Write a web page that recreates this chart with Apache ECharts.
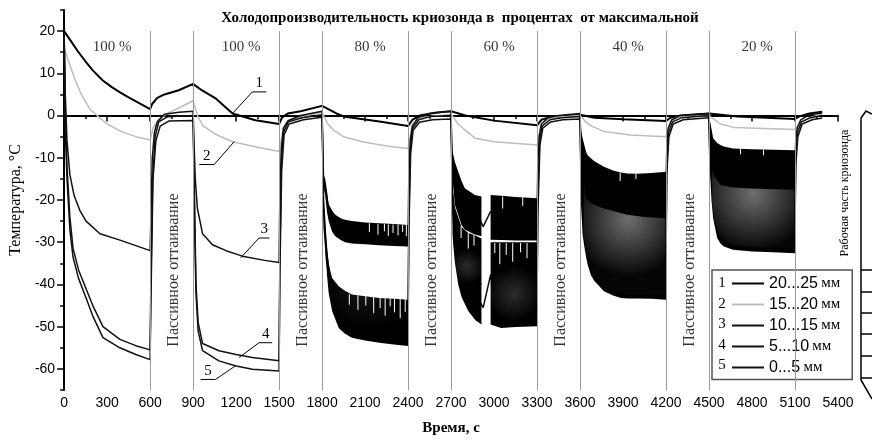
<!DOCTYPE html>
<html>
<head>
<meta charset="utf-8">
<script src="https://cdn.jsdelivr.net/npm/echarts/dist/echarts.min.js"></script>
<style>
  html, body { margin: 0; padding: 0; background: #fff; }
  #main { width: 872px; height: 441px; }
</style>
</head>
<body>
<div id="main"></div>
<script>
// time, s -> temperature, C
const s1 = [[0,20],[20,19],[50,17.5],[100,15],[150,12.8],[200,10.7],[270,8.3],[330,6.8],[390,5.5],[450,4.3],[520,3],[600,1.5],
  [615,2.8],[650,4.2],[700,5],[800,6],[900,7.5],
  [960,6],[1060,4],[1175,0.5],[1335,-1.1],[1500,-2],
  [1520,-0.5],[1560,0.5],[1650,1],[1800,2.3],
  [1900,0.5],[1960,-0.3],[2200,-1.4],[2400,-2.5],
  [2430,-1],[2480,0],[2600,0.7],[2700,1],
  [2800,0],[3000,-1.2],[3300,-2.3],
  [3330,-1],[3400,-0.3],[3600,0.2],
  [3700,-0.5],[3900,-0.9],[4200,-1.3],
  [4230,-0.5],[4300,0],[4500,0.5],
  [4700,-0.2],[4900,-0.5],[5100,-0.8],
  [5130,-0.2],[5200,0.5],[5290,0.9]]
const s2 = [[0,16],[30,13],[70,9],[120,5],[180,1.5],[230,0],[300,-2],[400,-3.8],[500,-5],[600,-5.8],
  [620,-3],[660,-1],[720,0.5],[800,1.8],[900,3.5],
  [930,0],[966,-2.3],[1060,-4.5],[1175,-6.2],[1350,-7.5],[1500,-8.5],
  [1530,-3],[1570,-1],[1700,0],[1800,0.8],
  [1840,-2],[1880,-3.5],[1950,-5],[2080,-6.2],[2250,-7.2],[2400,-7.8],
  [2430,-2],[2480,-0.5],[2700,0.3],
  [2750,-2],[2800,-3.5],[2870,-5.4],[3000,-6.2],[3300,-7],
  [3330,-2],[3380,-0.5],[3600,0],
  [3640,-1.5],[3680,-2.5],[3770,-3.8],[3950,-4.6],[4200,-5],
  [4230,-1.5],[4280,-0.3],[4500,0],
  [4540,-1],[4580,-2],[4670,-2.8],[5100,-3.3],
  [5140,-1.5],[5200,-0.5],[5290,0.3]]
const s3 = [[0,19],[8,5],[20,-6],[40,-14],[70,-19],[110,-22.5],[153,-25],[250,-28],[390,-29.5],[500,-30.8],[600,-32],
  [605,-25],[615,-10],[630,-4],[650,-1.5],[700,0.3],[800,0.8],[900,1],
  [905,-5],[915,-15],[930,-22],[966,-28],[1035,-30.6],[1130,-32],[1244,-33.3],[1400,-34.3],[1500,-34.8],
  [1505,-20],[1515,-8],[1530,-3],[1560,-1.3],[1650,0],[1800,1],
  [1810,-15],[1850,-23],[1950,-27],[2100,-28],[2400,-28.5],
  [2405,-15],[2415,-6],[2430,-2.5],[2470,-0.5],[2550,0.5],[2700,1],
  [2705,-8],[2730,-16],[2800,-22.5],[2900,-24.5],[2924,-26.3],[2976,-22.7],[3000,-24],[3300,-24.5],
  [3305,-12],[3315,-5],[3330,-2],[3380,-0.5],[3450,0],[3600,0.5],
  [3605,-5],[3620,-12],[3700,-16],[4200,-17],
  [4205,-8],[4215,-3],[4240,-1],[4300,0],[4500,0.5],
  [4505,-4],[4520,-8],[4600,-11],[5100,-12],
  [5105,-6],[5115,-3],[5140,-1],[5200,0.2],[5290,0.6]]
const s4 = [[0,19],[8,0],[20,-12],[40,-24],[62,-31.4],[100,-36.5],[153,-41],[200,-45],[271,-50],[389,-53],[500,-54.5],[600,-55.5],
  [605,-40],[618,-15],[635,-5],[660,-1.5],[720,-0.3],[900,0],
  [905,-10],[912,-25],[920,-40],[935,-49],[966,-54],[1080,-55.7],[1200,-56.6],[1314,-57.3],[1500,-58.1],
  [1505,-35],[1515,-12],[1530,-4],[1565,-1.5],[1660,-0.5],[1800,0.2],
  [1810,-20],[1830,-32],[1870,-42],[1950,-46],[2100,-48],[2400,-49],
  [2405,-25],[2415,-8],[2432,-3],[2475,-1],[2560,-0.2],[2700,0],
  [2708,-18],[2730,-28],[2800,-36],[2912,-40],[2944,'-'],[2976,-40],[3300,-40],
  [3305,-20],[3318,-6],[3335,-2.5],[3390,-1],[3470,-0.5],[3600,-0.2],
  [3605,-10],[3625,-22],[3700,-28],[4200,-30],
  [4205,-12],[4218,-4],[4245,-1.5],[4310,-0.5],[4500,0],
  [4505,-8],[4525,-16],[4600,-22],[5100,-24],
  [5105,-10],[5118,-4],[5145,-1.5],[5210,-0.5],[5290,0]]
const s5 = [[0,19],[8,-3],[20,-15],[40,-27],[62,-33.5],[100,-38.5],[153,-43.2],[200,-47.5],[271,-52.6],[389,-55],[500,-56.6],[600,-57.8],
  [605,-45],[620,-15],[640,-6],[670,-2.5],[730,-1.3],[900,-1.2],
  [905,-12],[912,-28],[920,-42],[935,-51],[966,-55.7],[1080,-58.1],[1200,-59.3],[1314,-60.1],[1500,-60.5],
  [1505,-38],[1518,-13],[1535,-4.5],[1570,-2],[1670,-1],[1800,-0.4],
  [1810,-22],[1830,-34],[1870,-44],[1950,-48.5],[2100,-50.5],[2400,-51.5],
  [2405,-28],[2418,-9],[2435,-3.5],[2480,-1.6],[2570,-1],[2700,-0.8],
  [2710,-22],[2730,-32],[2800,-40],[2900,-44],[2924,-45.5],[2976,-37.7],[3000,-43],[3300,-44],
  [3305,-24],[3320,-7],[3340,-3],[3395,-1.5],[3480,-1],[3600,-0.8],
  [3605,-12],[3625,-26],[3700,-33],[4200,-36],
  [4205,-14],[4220,-5],[4250,-2],[4320,-1],[4500,-0.5],
  [4505,-10],[4525,-18],[4600,-25],[5100,-27],
  [5105,-12],[5120,-5],[5150,-2],[5220,-1],[5290,-0.6]]

// noisy (oscillating) parts: [time, upper envelope, lower envelope]
const band80a = [[1810,-14,-17],[1822,-15,-19],[1835,-18,-23],[1846,-21,-25],[1870,-22.5,-27.5],[1892,-23.5,-28.6],[1930,-24.3,-29.5],[1960,-24.7,-30],[2008,-25,-30.3],[2100,-25.3,-30.5],[2196,-25.5,-30.7],[2300,-25.7,-30.9],[2400,-25.9,-31]]
const band80b = [[1810,-20,-27],[1822,-26.7,-31],[1835,-31,-38],[1846,-35.3,-42],[1870,-38.5,-46.3],[1916,-40.4,-50.3],[1960,-41.5,-51.7],[2008,-42.4,-52.6],[2100,-42.8,-53.3],[2200,-43.2,-53.8],[2300,-43.4,-54.2],[2400,-43.6,-54.6]]
const band60a = [[2705,-6,-10],[2710,-8.6,-15],[2727,-11,-21.2],[2750,-13.3,-23.5],[2773,-15.5,-25.9],[2796,-17.2,-27],[2843,-18.3,-27.8],[2866,-18.8,-28.2],[2912,-19.2,-28.6]]
const band60b = [[2976,-18.8,-29.4],[3050,-19,-29.5],[3150,-19.3,-29.6],[3300,-19.6,-29.6]]
const band60c = [[2710,-15,-28],[2715,-18,-30.6],[2727,-21.7,-35],[2750,-24,-40],[2773,-26.4,-43],[2820,-27.8,-46.3],[2870,-28.4,-48.5],[2912,-29.1,-49.5]]
const band60d = [[2976,-30,-49.5],[3050,-30,-50.3],[3150,-30,-50.1],[3300,-30,-49.9]]
const band40 = [[3605,-3,-20],[3618,-5.4,-28.2],[3630,-7,-31],[3642,-8.6,-33.5],[3653,-9.4,-35.3],[3676,-10.1,-37.8],[3700,-10.8,-39.2],[3767,-12.1,-41.6],[3830,-13,-42.6],[3885,-13.5,-43.2],[3931,-13.7,-43.3],[4000,-13.8,-43.3],[4100,-13.6,-43.4],[4200,-13.3,-43.6]]
const band40g = [[3625,-15,-28],[3642,-19.6,-32.5],[3676,-20.8,-36.8],[3767,-22,-40.6],[3931,-23.5,-42.3],[4050,-24,-42.3],[4195,-24.3,-42.6]]
const band20 = [[4505,-1,-12],[4517,-3.1,-20],[4529,-5.4,-24.3],[4557,-6.5,-29],[4580,-7,-30.3],[4603,-7.3,-31],[4667,-7.8,-31.8],[4800,-8,-32.2],[4950,-8.1,-32.4],[5100,-8.2,-32.6]]
const band20g = [[4522,-13,-21],[4540,-14.5,-25],[4580,-16.4,-29],[4650,-17,-30.5],[4750,-17.2,-31],[4900,-17.4,-31.2],[5095,-17.6,-31.4]]
// white dropouts hanging from the band edges: [time, from, to]
const spikes = [[2130,-25.5,-27.6],[2190,-25.7,-28.2],[2235,-25.7,-27.4],[2262,-25.8,-28.5],[2295,-25.8,-27.8],[2330,-25.8,-28.4],[2362,-25.9,-27.6],[2388,-25.9,-28.6],
  [1990,-42.3,-44.8],[2050,-42.6,-46],[2105,-42.8,-45],[2160,-43,-46.8],[2205,-43.2,-45.6],[2240,-43.3,-47.4],[2275,-43.3,-45.2],[2305,-43.4,-46.6],[2345,-43.5,-48],[2380,-43.5,-46.5],
  [2770,-26.2,-29],[2820,-27.8,-31.5],[2860,-28.3,-30.8],[3005,-30.2,-32.6],[3040,-30.2,-35.2],[3085,-30.2,-33],[3130,-30.2,-34.6],[3185,-30.2,-32.4],[3230,-30.2,-33.8],
  [3060,-19.2,-22],[3200,-19.4,-21.4],
  [3880,-13.5,-15.5],[3990,-13.8,-15],[4720,-7.9,-9.2],[4880,-8.1,-9.4]]

const seriesNames = ['20...25 мм', '15...20 мм', '10...15 мм', '5...10 мм', '0...5 мм']
const seriesNums = ['1', '2', '3', '4', '5']
const dividerTimes = [600, 900, 1500, 1800, 2400, 2700, 3300, 3600, 4200, 4500, 5100]
const percentTimes = [335, 1235, 2135, 3035, 3935, 4835]
const percentLabels = ['100 %', '100 %', '80 %', '60 %', '40 %', '20 %']
const passiveTimes = [764, 1664, 2564, 3464, 4364]
const passiveText = 'Пассивное оттаивание'
// callouts: number, point on curve [t, v], elbow [t, v], end of underline t
const callouts = [
  ['1', [1175, 0.5], [1313, 5.6], 1411],
  ['2', [1186, -6.2], [1047, -11.6], 943],
  ['3', [1232, -33.7], [1360, -29], 1432],
  ['4', [1221, -57.3], [1360, -53.8], 1452],
  ['5', [1195, -59.3], [1056, -62.5], 952]
]
const yTicks = [-60, -50, -40, -30, -20, -10, 0, 10, 20]
const yMinorTicks = [-65, -55, -45, -35, -25, -15, -5, 5, 15, 25]

const serif = '"Liberation Serif", "DejaVu Serif", serif'
const sans = '"Liberation Sans", Arial, sans-serif'

function bandSeries (pts, fill) {
  return {
    type: 'custom',
    z: 4,
    silent: true,
    data: pts,
    encode: { x: 0, y: [1, 2] },
    renderItem (params, api) {
      if (params.dataIndex !== 0) return
      const top = pts.map(p => api.coord([p[0], p[1]]))
      const bot = pts.map(p => api.coord([p[0], p[2]])).reverse()
      return { type: 'polygon', shape: { points: top.concat(bot) }, style: { fill: fill, stroke: null } }
    }
  }
}
function glow (center, edge, cx, cy, r) {
  return { type: 'radial', x: cx, y: cy, r: r, colorStops: [{ offset: 0, color: center }, { offset: 1, color: edge }] }
}

const lineColors = ['#000', '#bdbdbd', '#111', '#111', '#111']
const lineWidths = [2, 1.5, 1.5, 1.5, 1.5]
const lineData = [s1, s2, s3, s4, s5]

const myChart = echarts.init(document.getElementById('main'))
const series = lineData.map((d, i) => ({
  name: seriesNames[i],
  type: 'line',
  data: d,
  symbol: 'none',
  z: 3,
  silent: true,
  lineStyle: { color: lineColors[i], width: lineWidths[i] },
  itemStyle: { color: lineColors[i] }
}))
// dividers between active and passive phases
series[0].markLine = {
  silent: true,
  symbol: 'none',
  label: { show: false },
  lineStyle: { color: '#9a9a9a', width: 1, type: 'solid' },
  data: dividerTimes.map(t => [{ coord: [t, 20] }, { coord: [t, -65] }])
}
series.push(
  bandSeries(band80a, '#000'),
  bandSeries(band80b, glow('#161616', '#000', 0.5, 0.6, 0.5)),
  bandSeries(band60a, '#000'),
  bandSeries(band60b, '#000'),
  bandSeries(band60c, glow('#2c2c2c', '#000', 0.5, 0.6, 0.6)),
  bandSeries(band60d, glow('#2c2c2c', '#000', 0.5, 0.6, 0.6)),
  bandSeries(band40, '#000'),
  bandSeries(band40g, glow('#6e6e6e', '#050505', 0.55, 0.35, 0.7)),
  bandSeries(band20, '#000'),
  bandSeries(band20g, glow('#6e6e6e', '#050505', 0.5, 0.3, 0.75))
)
series.push({
  type: 'custom',
  silent: true,
  z: 5,
  data: spikes,
  encode: { x: 0, y: [1, 2] },
  renderItem (params, api) {
    const a = api.coord([api.value(0), api.value(1)])
    const b = api.coord([api.value(0), api.value(2)])
    return { type: 'line', shape: { x1: a[0], y1: a[1], x2: b[0], y2: b[1] }, style: { stroke: '#fff', lineWidth: 1 } }
  }
})
// text in the plot
series.push({
  type: 'scatter',
  symbolSize: 0,
  silent: true,
  z: 6,
  data: percentTimes.map((t, i) => ({ value: [t, 16.2], label: { formatter: percentLabels[i] } })),
  label: { show: true, position: 'inside', color: '#000', fontFamily: serif, fontSize: 15 }
})
series.push({
  type: 'scatter',
  symbolSize: 0,
  silent: true,
  z: 6,
  data: passiveTimes.map(t => [t, -36.6]),
  label: { show: true, position: 'inside', rotate: 90, color: '#000', fontFamily: serif, fontSize: 16, formatter: passiveText }
})
series.push({
  type: 'custom',
  silent: true,
  z: 6,
  data: callouts.map((c, i) => [c[1][0], c[1][1], i]),
  renderItem (params, api) {
    const c = callouts[params.dataIndex]
    const a = api.coord(c[1])
    const e = api.coord(c[2])
    const f = api.coord([c[3], c[2][1]])
    return {
      type: 'group',
      children: [
        { type: 'polyline', shape: { points: [a, e, f] }, style: { stroke: '#000', lineWidth: 1, fill: null } },
        { type: 'text', x: (e[0] + f[0]) / 2, y: e[1] - 1, style: { text: c[0], fill: '#000', font: '15px ' + serif, align: 'center', verticalAlign: 'bottom' } }
      ]
    }
  }
})

const rowTop = 283.5
myChart.setOption({
  animation: false,
  backgroundColor: '#fff',
  grid: { left: 61, right: 34, top: 10, bottom: 49 },
  legend: {
    data: seriesNames.map(n => ({ name: n, icon: 'rect' })),
    orient: 'vertical',
    left: 712,
    top: 270,
    padding: [5.5, 12, 4, 20],
    itemGap: 5,
    itemWidth: 32,
    itemHeight: 2,
    borderColor: '#555',
    borderWidth: 1.5,
    backgroundColor: '#fff',
    selectedMode: false,
    formatter: name => {
      const p = name.split(' ')
      return '{n|' + p[0] + '} {u|' + p[1] + '}'
    },
    textStyle: {
      lineHeight: 14,
      height: 14,
      rich: {
        n: { fontFamily: sans, fontSize: 16, color: '#000', lineHeight: 14, height: 14 },
        u: { fontFamily: serif, fontSize: 15, color: '#000', lineHeight: 14, height: 14 }
      }
    }
  },
  graphic: [
    {
      type: 'text', x: 460, y: 18,
      style: { text: 'Холодопроизводительность криозонда в  процентах  от максимальной', font: 'bold 15px ' + serif, fill: '#000', align: 'center', verticalAlign: 'middle' }
    },
    {
      type: 'text', x: 845, y: 193, rotation: Math.PI / 2,
      style: { text: 'Рабочая часть криозонда', font: '12px ' + serif, fill: '#000', align: 'center', verticalAlign: 'middle' }
    },
    {
      type: 'polyline',
      shape: { points: [[872, 114], [866, 111], [861, 118], [861, 380], [872, 399]] },
      style: { stroke: '#000', lineWidth: 1.5, fill: null }
    },
    ...[270, 292, 313, 334, 356, 378].map(y => ({
      type: 'line', shape: { x1: 861, y1: y, x2: 872, y2: y }, style: { stroke: '#000', lineWidth: 1.5 }
    })),
    ...seriesNums.map((n, i) => ({
      type: 'text', x: 722, y: rowTop + i * 20.5, z: 100,
      style: { text: n, font: '15px ' + serif, fill: '#000', align: 'center', verticalAlign: 'middle' }
    }))
  ],
  xAxis: {
    type: 'value',
    min: 0,
    max: 5400,
    interval: 300,
    name: 'Время, с',
    nameLocation: 'middle',
    nameGap: 31,
    nameTextStyle: { fontFamily: serif, fontSize: 15, fontWeight: 'bold', color: '#000' },
    axisLine: { lineStyle: { color: '#000', width: 2 } },
    axisTick: { length: 6, lineStyle: { color: '#000', width: 1.5 } },
    minorTick: { show: true, splitNumber: 2, length: 3.5, lineStyle: { color: '#000', width: 1.5 } },
    axisLabel: { fontFamily: sans, fontSize: 14, color: '#000', margin: 6, formatter: v => String(v) },
    splitLine: { show: false }
  },
  yAxis: [
    {
      type: 'value',
      min: -65,
      max: 25,
      name: 'Температура, °C',
      nameLocation: 'middle',
      nameGap: 40,
      nameTextStyle: { fontFamily: serif, fontSize: 16, color: '#000' },
      axisLine: { show: true, lineStyle: { color: '#000', width: 2 } },
      axisTick: { show: true, length: 7, customValues: yTicks, lineStyle: { color: '#000', width: 1.5 } },
      axisLabel: { customValues: yTicks, fontFamily: sans, fontSize: 14, color: '#000', margin: 9 },
      splitLine: { show: false }
    },
    {
      type: 'value',
      min: -65,
      max: 25,
      position: 'left',
      axisLine: { show: false },
      axisTick: { show: true, length: 4, customValues: yMinorTicks, lineStyle: { color: '#000', width: 1.5 } },
      axisLabel: { show: false },
      splitLine: { show: false }
    }
  ],
  series: series
})
</script>
</body>
</html>
